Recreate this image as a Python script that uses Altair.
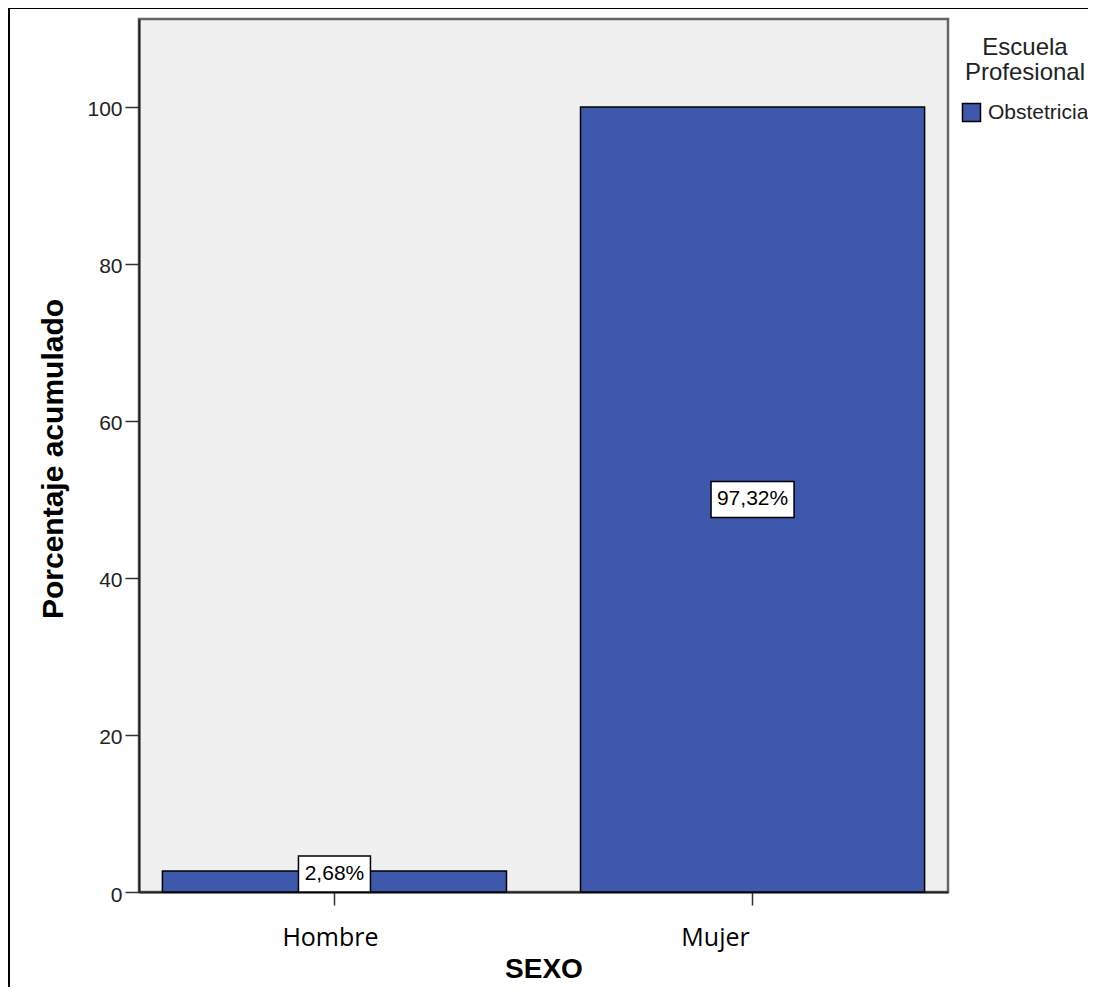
import altair as alt
import pandas as pd

# ---- data ----
categories = ["Hombre", "Mujer"]
percentages = [2.68, 97.32]
series_name = "Obstetricia"
y_ticks = [0, 20, 40, 60, 80, 100]
y_max = 111.2

# derived values
cumulative = [round(sum(percentages[: i + 1]), 2) for i in range(len(percentages))]
labels = [f"{p:.2f}".replace(".", ",") + "%" for p in percentages]

PLOT_W, PLOT_H = 809, 873
px_per_unit = PLOT_H / y_max
BOX_H = 36
box_widths = [11 * len(l) + 17 for l in labels]
label_y = [max(c / 2, (BOX_H / 2) / px_per_unit) for c in cumulative]
shapes = []
for w in box_widths:
    h = BOX_H / w
    shapes.append(f"M-1,-{h:.4f}L1,-{h:.4f}L1,{h:.4f}L-1,{h:.4f}Z")
sizes = [w * w for w in box_widths]

df = pd.DataFrame({
    "SEXO": categories,
    "pct": percentages,
    "acum": cumulative,
    "label": labels,
    "label_y": label_y,
    "shape": shapes,
    "size": sizes,
    "Escuela": [series_name] * len(categories),
})

x_scale = alt.Scale(domain=categories, paddingInner=0.177, paddingOuter=0.056)
y_scale = alt.Scale(domain=[0, y_max], nice=False, zero=True)

x_axis = alt.Axis(
    title="SEXO", titleFont="Liberation Sans", titleFontSize=28, titleFontWeight="bold",
    titleColor="black", titleX=404.5, titleY=85, titleBaseline="alphabetic", titleAlign="center",
    labelFont="Open Sans", labelFontSize=25, labelColor="black", labelAngle=0,
    labelPadding=20,
    labelOffset={"condition": {"test": "datum.value === 'Mujer'", "value": -37}, "value": -4},
    tickSize=13, tickColor="#333", tickWidth=1.5, domainColor="#222", domainWidth=2,
)
y_axis = alt.Axis(
    values=y_ticks, title="Porcentaje acumulado", titleFont="Liberation Sans",
    titleFontSize=30, titleFontWeight="bold", titleColor="black", titleAngle=270,
    titleX=-77, titleY=439.5, titleAlign="center", titleBaseline="alphabetic",
    labelFont="Liberation Sans", labelFontSize=21, labelColor="#222", labelPadding=3,
    labelOffset=3, tickSize=14, tickColor="#333", tickWidth=1.5,
    domainColor="#222", domainWidth=2, grid=False,
)

legend = alt.Legend(
    title=["Escuela", "Profesional"], orient="none", legendX=822, legendY=17,
    titleFont="Liberation Sans", titleFontSize=24, titleFontWeight="normal", titleColor="#222",
    titleLineHeight=25, titleAnchor="middle", titleAlign="center", titlePadding=17,
    labelFont="Liberation Sans", labelFontSize=21, labelColor="#222", labelOffset=6,
    symbolType="square", symbolSize=324, symbolStrokeColor="black", symbolStrokeWidth=1.5,
    padding=0,
)

bars = alt.Chart(df).mark_bar(stroke="black", strokeWidth=1.5, opacity=1).encode(
    x=alt.X("SEXO:N", scale=x_scale, axis=x_axis, sort=categories),
    y=alt.Y("acum:Q", scale=y_scale, axis=y_axis),
    color=alt.Color("Escuela:N", scale=alt.Scale(range=["#3E58AC"]), legend=legend),
)

boxes = alt.Chart(df).mark_point(
    filled=True, fill="white", stroke="black", strokeWidth=1.5, opacity=1, fillOpacity=1
).encode(
    x=alt.X("SEXO:N", sort=categories),
    y=alt.Y("label_y:Q"),
    shape=alt.Shape("shape:N", scale=None),
    size=alt.Size("size:Q", scale=None),
)

texts = alt.Chart(df).mark_text(
    font="Liberation Sans", fontSize=21, baseline="middle", align="center", color="black"
).encode(
    x=alt.X("SEXO:N", sort=categories),
    y=alt.Y("label_y:Q"),
    text="label:N",
)

# outer frame of the exported figure (only its left and top edges fall inside the picture)
border_df = pd.DataFrame({"k": [0]})
frame = alt.Chart(border_df).mark_rect(
    fill="transparent", stroke="black", strokeWidth=2, clip=False
).encode(
    x=alt.value(-130), x2=alt.value(2000), y=alt.value(-11), y2=alt.value(2000)
)

chart = alt.layer(bars, boxes, texts, frame).properties(
    width=PLOT_W, height=PLOT_H,
    autosize=alt.AutoSizeParams(type="none"),
    padding={"left": 131, "top": 11, "right": 140, "bottom": 95},
    background="white",
).configure_view(
    fill="#F0F0F0", stroke="#666", strokeWidth=2.5
)

chart.save("out.html", embed_options={"renderer": "svg", "actions": False})
